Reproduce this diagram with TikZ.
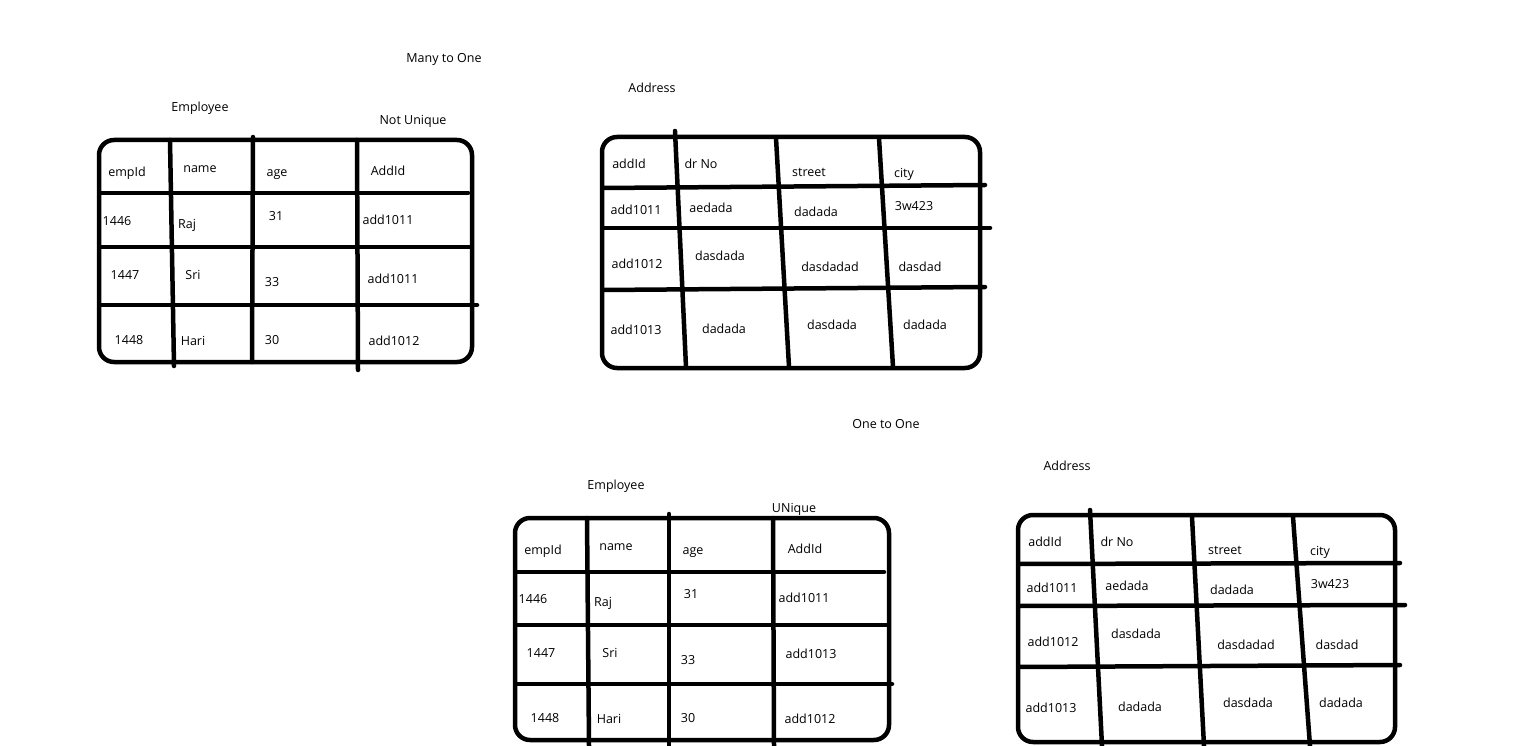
\documentclass[tikz,border=0pt]{standalone}
\usepackage{fontspec}
\setmainfont{Open Sans}
\begin{document}
\begin{tikzpicture}[x=1pt,y=-1pt,
  tbl/.style={line width=4.5pt, line cap=round, line join=round},
  txt/.style={inner sep=0pt, text height=8pt, text depth=0pt, yshift=-1.5pt, font=\fontsize{12.5pt}{14pt}\selectfont}]
\useasboundingbox[fill=white] (0,0) rectangle (1518,746);
% ---------- Many to One: Employee ----------
\draw[tbl, rounded corners=15pt] (99,140) rectangle (472,362);
\draw[tbl] (100,193) -- (468,193);
\draw[tbl] (100,247) -- (471,247);
\draw[tbl] (100,305) -- (477,305);
\draw[tbl] (170,140) -- (174,366);
\draw[tbl] (253,137) -- (252,362);
\draw[tbl] (357,140) -- (358,370);
\node[txt] (mto) at (444,57) {Many to One};
\node[txt] (e1t) at (200,106) {Employee};
\node[txt] (nu) at (413,119) {Not Unique};
\node[txt] (e1a) at (127,171) {empId};
\node[txt] (e1b) at (200,167) {name};
\node[txt] (e1c) at (277,171) {age};
\node[txt] (e1d) at (388,170) {AddId};
\node[txt] (e1e) at (117,220) {1446};
\node[txt] (e1f) at (187,223) {Raj};
\node[txt] (e1g) at (276,215) {31};
\node[txt] (e1h) at (388,219) {add1011};
\node[txt] (e1i) at (125,274) {1447};
\node[txt] (e1j) at (193,274) {Sri};
\node[txt] (e1k) at (272,281) {33};
\node[txt] (e1l) at (393,278) {add1011};
\node[txt] (e1m) at (129,339) {1448};
\node[txt] (e1n) at (193,340) {Hari};
\node[txt] (e1o) at (272,339) {30};
\node[txt] (e1p) at (394,340) {add1012};
% ---------- Many to One: Address ----------
\draw[tbl, rounded corners=15pt] (602,137) rectangle (980,368);
\draw[tbl] (603,188) -- (985,185);
\draw[tbl] (603,228) -- (990,228);
\draw[tbl] (603,290) -- (985,287);
\draw[tbl] (675,131) -- (686,367);
\draw[tbl] (776,138) -- (789,367);
\draw[tbl] (879,138) -- (893,367);
\node[txt] (a1t) at (652,87) {Address};
\node[txt] (a1a) at (629,163) {addId};
\node[txt] (a1b) at (701,163) {dr No};
\node[txt] (a1c) at (809,171) {street};
\node[txt] (a1d) at (904,172) {city};
\node[txt] (a1e) at (636,209) {add1011};
\node[txt] (a1f) at (711,207) {aedada};
\node[txt] (a1g) at (816,211) {dadada};
\node[txt] (a1h) at (914,205) {3w423};
\node[txt] (a1i) at (637,263) {add1012};
\node[txt] (a1j) at (720,255) {dasdada};
\node[txt] (a1k) at (830,266) {dasdadad};
\node[txt] (a1l) at (920,266) {dasdad};
\node[txt] (a1m) at (636,329) {add1013};
\node[txt] (a1n) at (724,328) {dadada};
\node[txt] (a1o) at (832,324) {dasdada};
\node[txt] (a1p) at (925,324) {dadada};
% ---------- One to One: Employee ----------
\draw[tbl, rounded corners=15pt] (515,518) rectangle (889,740);
\draw[tbl] (516,572) -- (884,572);
\draw[tbl] (516,625) -- (887,625);
\draw[tbl] (516,684) -- (892,684);
\draw[tbl] (587,518) -- (589,746);
\draw[tbl] (669,514) -- (669,746);
\draw[tbl] (773,518) -- (774,746);
\node[txt] (oto) at (886,423) {One to One};
\node[txt] (e2t) at (616,484) {Employee};
\node[txt] (un) at (794,507) {UNique};
\node[txt] (e2a) at (543,549) {empId};
\node[txt] (e2b) at (616,545) {name};
\node[txt] (e2c) at (693,549) {age};
\node[txt] (e2d) at (805,548) {AddId};
\node[txt] (e2e) at (533,598) {1446};
\node[txt] (e2f) at (603,601) {Raj};
\node[txt] (e2g) at (691,593) {31};
\node[txt] (e2h) at (804,597) {add1011};
\node[txt] (e2i) at (541,652) {1447};
\node[txt] (e2j) at (610,652) {Sri};
\node[txt] (e2k) at (688,659) {33};
\node[txt] (e2l) at (811,653) {add1013};
\node[txt] (e2m) at (545,717) {1448};
\node[txt] (e2n) at (609,718) {Hari};
\node[txt] (e2o) at (688,717) {30};
\node[txt] (e2p) at (810,718) {add1012};
% ---------- One to One: Address ----------
\draw[tbl, rounded corners=15pt] (1018,515) rectangle (1395,742);
\draw[tbl] (1019,564) -- (1400,563);
\draw[tbl] (1019,606) -- (1405,605);
\draw[tbl] (1019,667) -- (1400,665);
\draw[tbl] (1090,510) -- (1102,746);
\draw[tbl] (1192,517) -- (1204,746);
\draw[tbl] (1293,517) -- (1310,746);
\node[txt] (a2t) at (1067,465) {Address};
\node[txt] (a2a) at (1045,541) {addId};
\node[txt] (a2b) at (1117,541) {dr No};
\node[txt] (a2c) at (1225,549) {street};
\node[txt] (a2d) at (1320,550) {city};
\node[txt] (a2e) at (1052,587) {add1011};
\node[txt] (a2f) at (1127,585) {aedada};
\node[txt] (a2g) at (1232,589) {dadada};
\node[txt] (a2h) at (1330,583) {3w423};
\node[txt] (a2i) at (1053,641) {add1012};
\node[txt] (a2j) at (1136,633) {dasdada};
\node[txt] (a2k) at (1246,644) {dasdadad};
\node[txt] (a2l) at (1337,644) {dasdad};
\node[txt] (a2m) at (1051,707) {add1013};
\node[txt] (a2n) at (1140,706) {dadada};
\node[txt] (a2o) at (1248,702) {dasdada};
\node[txt] (a2p) at (1341,702) {dadada};
\end{tikzpicture}
\end{document}
